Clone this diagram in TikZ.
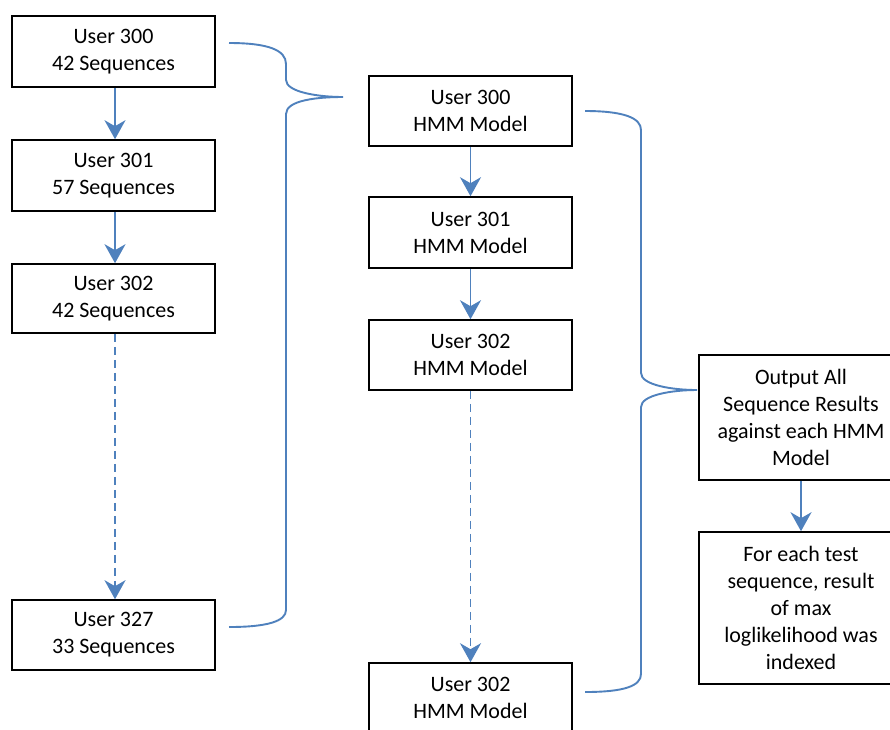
\documentclass[tikz,border=0pt]{standalone}
\usepackage{fontspec}
\setmainfont{Carlito}
\usetikzlibrary{arrows.meta}
\definecolor{flowblue}{HTML}{4F81BD}
\tikzset{
  box/.style={draw=black, line width=1.6pt, fill=white, align=center, inner sep=0pt,
              minimum width=203pt, font=\fontsize{22}{27}\selectfont,
              execute at begin node={\rule{0pt}{19pt}}},
  flow/.style={draw=flowblue, line width=1.9pt,
               -{Stealth[length=19pt, width=21pt, inset=6pt]}},
  flowdash/.style={flow, dash pattern=on 8pt off 5pt},
  brace/.style={draw=flowblue, line width=1.9pt}
}
\begin{document}
\begin{tikzpicture}[x=1pt, y=-1pt]
\useasboundingbox (0,0) rectangle (890,729);
\clip (0,0) rectangle (890,729);
\fill[white] (0,0) rectangle (890,729);

% sequence sets per user
\node[box, minimum height=71pt] (L1) at (113.5,51.5) {User 300\\42 Sequences};
\node[box, minimum height=71pt] (L2) at (113.5,175.5) {User 301\\57 Sequences};
\node[box, minimum height=69pt] (L3) at (113.5,298.5) {User 302\\42 Sequences};
\node[box, minimum height=70pt] (L4) at (113.5,635) {User 327\\33 Sequences};

% trained models
\node[box, minimum height=70pt] (M1) at (470.5,111) {User 300\\HMM Model};
\node[box, minimum height=71pt] (M2) at (470.5,232.5) {User 301\\HMM Model};
\node[box, minimum height=70pt] (M3) at (470.5,355) {User 302\\HMM Model};
\node[box, minimum height=70pt] (M4) at (470.5,698) {User 302\\HMM Model};

% results
\node[box, minimum width=204pt, minimum height=125pt] (O) at (801,417.5)
  {Output All\\Sequence Results\\against each HMM\\Model};
\node[box, minimum width=204pt, minimum height=152pt] (F) at (801,608)
  {For each test\\sequence, result\\of max\\loglikelihood was\\indexed};

% chains
\draw[flow] ([xshift=1.5pt]L1.south) -- ([xshift=1.5pt]L2.north);
\draw[flow] ([xshift=1.5pt]L2.south) -- ([xshift=1.5pt]L3.north);
\draw[flowdash] ([xshift=1.5pt]L3.south) -- ([xshift=1.5pt]L4.north);
\draw[flow] (M1.south) -- (M2.north);
\draw[flow] (M2.south) -- (M3.north);
\draw[flowdash] (M3.south) -- (M4.north);
\draw[flow] (O.south) -- (F.north);

% left brace: sequences feed the model stage
\coordinate (lbTop) at (229,43);
\coordinate (lbBot) at (229,627);
\coordinate (lbTip) at (343,97);
\draw[brace] (lbTop) .. controls (268,43) and (286,50) .. (286,64)
  -- (286,80) .. controls (286,92) and (318,97) .. (lbTip)
  .. controls (318,97) and (286,100) .. (286,114)
  -- (286,610) .. controls (286,621) and (268,627) .. (lbBot);

% right brace: models feed the output stage
\coordinate (rbTop) at (585,111);
\coordinate (rbBot) at (585,692);
\coordinate (rbTip) at (697,390);
\draw[brace] (rbTop) .. controls (624,111) and (641,118) .. (641,130)
  -- (641,373) .. controls (641,385) and (672,390) .. (rbTip)
  .. controls (672,390) and (641,395) .. (641,407)
  -- (641,674) .. controls (641,686) and (624,692) .. (rbBot);
\end{tikzpicture}
\end{document}
